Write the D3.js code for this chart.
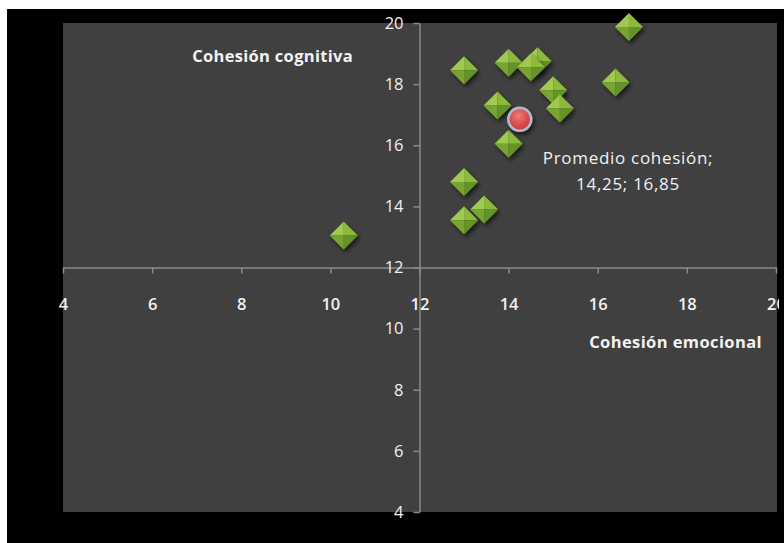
<!DOCTYPE html>
<html><head><meta charset="utf-8">
<script src="https://cdn.jsdelivr.net/npm/d3@7"></script>
<style>html,body{margin:0;padding:0;background:#fff;}svg{display:block;}</style>
</head><body>
<svg id="chart" width="784" height="543"></svg>
<script>
const xValues = [16.7, 13.0, 14.0, 14.65, 14.5, 13.75, 15.0, 15.15, 16.4, 14.0, 13.0, 13.45, 13.0, 10.3];
const yValues = [19.87, 18.45, 18.7, 18.75, 18.55, 17.3, 17.8, 17.2, 18.05, 16.05, 14.8, 13.9, 13.55, 13.05];
const meanPoint = [14.25, 16.85];
const meanLabel = ["Promedio cohesión;", "14,25; 16,85"];
const xTicks = [4, 6, 8, 10, 12, 14, 16, 18, 20];
const yTicks = [4, 6, 8, 10, 12, 14, 16, 18, 20];
const xTitle = "Cohesión emocional";
const yTitle = "Cohesión cognitiva";

const svg = d3.select("#chart");
const W = 784, H = 543;
const plot = {l: 63, r: 777, t: 23, b: 512};

const defs = svg.append("defs");
const clip = defs.append("clipPath").attr("id", "chartclip");
clip.append("rect").attr("x", 7).attr("y", 9).attr("width", 772).attr("height", 534);
const shadow = defs.append("filter").attr("id", "shadow").attr("x", "-50%").attr("y", "-50%").attr("width", "200%").attr("height", "200%");
shadow.append("feGaussianBlur").attr("in", "SourceAlpha").attr("stdDeviation", 2);
shadow.append("feOffset").attr("dx", 2).attr("dy", 3).attr("result", "ob");
shadow.append("feComponentTransfer").append("feFuncA").attr("type", "linear").attr("slope", 0.6);
const fm = shadow.append("feMerge");
fm.append("feMergeNode");
fm.append("feMergeNode").attr("in", "SourceGraphic");
const rg = defs.append("radialGradient").attr("id", "redgrad").attr("cx", "45%").attr("cy", "35%").attr("r", "65%");
rg.append("stop").attr("offset", "0%").attr("stop-color", "#f07a7a");
rg.append("stop").attr("offset", "60%").attr("stop-color", "#dc4c4c");
rg.append("stop").attr("offset", "100%").attr("stop-color", "#c33a3a");

// backgrounds
svg.append("rect").attr("x", 0).attr("y", 0).attr("width", W).attr("height", H).attr("fill", "#fff");
svg.append("rect").attr("x", 7).attr("y", 9).attr("width", W - 7).attr("height", H - 9).attr("fill", "#000");
svg.append("rect").attr("x", plot.l).attr("y", plot.t).attr("width", plot.r - plot.l).attr("height", plot.b - plot.t).attr("fill", "#404040");

const x = d3.scaleLinear().domain([4, 20]).range([plot.l, plot.r - 1]);
const y = d3.scaleLinear().domain([4, 20]).range([plot.b, plot.t]);

const g = svg.append("g").attr("clip-path", "url(#chartclip)");
const font = "'Open Sans', sans-serif";
const axisColor = "#8a8a8a";
const textColor = "#f2f2f2";

// x axis at y=12
const xAxis = d3.axisBottom(x).tickValues(xTicks).tickSize(6).tickFormat(d3.format("d")).tickSizeOuter(0);
const xa = g.append("g").attr("transform", `translate(0,${y(12)})`).call(xAxis);
xa.select(".domain").attr("stroke", axisColor).attr("stroke-width", 1.5);
xa.selectAll(".tick line").attr("stroke", axisColor).attr("stroke-width", 1.5);
xa.selectAll(".tick text").attr("fill", textColor).attr("font-family", font).attr("font-size", 16.5).attr("font-weight", 600).attr("y", 31).attr("dy", "0.71em");

// y axis at x=12
const yAxis = d3.axisLeft(y).tickValues(yTicks).tickSize(6).tickFormat(d3.format("d")).tickSizeOuter(0);
const ya = g.append("g").attr("transform", `translate(${x(12)},0)`).call(yAxis);
ya.select(".domain").attr("stroke", axisColor).attr("stroke-width", 1.5);
ya.selectAll(".tick line").attr("stroke", axisColor).attr("stroke-width", 1.5);
ya.selectAll(".tick text").attr("fill", textColor).attr("font-family", font).attr("font-size", 16.5).attr("x", -16);

// titles
g.append("text").attr("x", 353).attr("y", 56).attr("dy", "0.35em").attr("text-anchor", "end")
  .attr("fill", textColor).attr("font-family", font).attr("font-weight", 700).attr("font-size", 16.5)
  .attr("letter-spacing", 0.3).text(yTitle);
g.append("text").attr("x", 762).attr("y", 342).attr("dy", "0.35em").attr("text-anchor", "end")
  .attr("fill", textColor).attr("font-family", font).attr("font-weight", 700).attr("font-size", 16.5)
  .attr("letter-spacing", 0.4).text(xTitle);

// diamonds
const pts = xValues.map((v, i) => [v, yValues[i]]);
const s = 14;
const facets = [
  {p: [[0, -1], [-1, 0], [0, 0]], c: "#9fc94f"},
  {p: [[0, -1], [1, 0], [0, 0]], c: "#8cba3d"},
  {p: [[-1, 0], [0, 1], [0, 0]], c: "#78a532"},
  {p: [[1, 0], [0, 1], [0, 0]], c: "#66922a"}
];
const dg = g.append("g").selectAll("g.pt").data(pts).join("g").attr("class", "pt")
  .attr("transform", d => `translate(${x(d[0])},${y(d[1])})`).attr("filter", "url(#shadow)");
facets.forEach(f => {
  dg.append("path").attr("d", "M" + f.p.map(q => [q[0] * s, q[1] * s].join(",")).join("L") + "Z").attr("fill", f.c);
});

// mean point
g.append("circle").attr("cx", x(meanPoint[0])).attr("cy", y(meanPoint[1])).attr("r", 11.5)
  .attr("fill", "url(#redgrad)").attr("stroke", "#aeb8d0").attr("stroke-width", 2.5).attr("filter", "url(#shadow)");

// label
const lab = g.append("text").attr("fill", textColor).attr("font-family", font).attr("font-size", 17)
  .attr("letter-spacing", 0.7).attr("text-anchor", "middle");
meanLabel.forEach((t, i) => lab.append("tspan").attr("x", 628).attr("y", 158 + i * 26).attr("dy", "0.35em").text(t));
</script>
</body></html>
